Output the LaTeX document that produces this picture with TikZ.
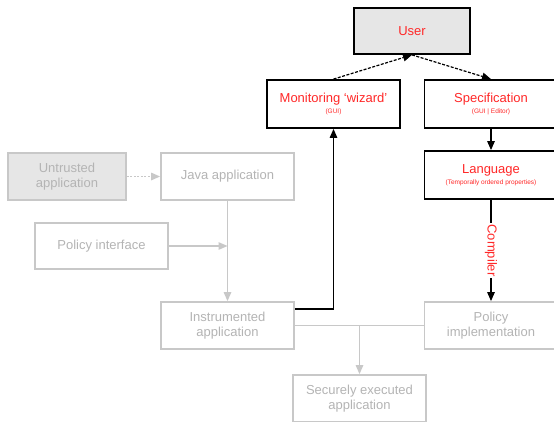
\documentclass[tikz,border=0pt]{standalone}
\usepackage{fontspec}
\setmainfont{Liberation Sans}
\usetikzlibrary{arrows.meta}
\definecolor{lred}{RGB}{255,40,40}
\definecolor{lgray}{RGB}{200,200,200}
\definecolor{tgray}{RGB}{180,180,180}
\definecolor{bfill}{RGB}{230,230,230}
\tikzset{
  mainfont/.style={font=\fontsize{13}{14.5}\selectfont},
  blackbox/.style={draw=black, line width=1.8pt, fill=white, text=lred, align=center, mainfont, inner sep=0pt},
  graybox/.style={draw=lgray, line width=1.8pt, fill=white, text=tgray, align=center, mainfont, inner sep=0pt},
  blk/.style={draw=black, line width=1.2pt, -{Triangle[length=9pt,width=7.5pt]}},
  gry/.style={draw=lgray, line width=1.2pt, -{Triangle[length=9pt,width=7.5pt]}},
  blkdash/.style={blk, dashed, dash pattern=on 3pt off 1.5pt},
}
\newcommand{\subtxt}[1]{\\[-3pt]{\fontsize{6.5}{7}\selectfont #1}}
\begin{document}
\begin{tikzpicture}[x=1pt,y=-1pt]
\useasboundingbox (0,0) rectangle (554,421);
\clip (0,0) rectangle (554,421);
\fill[white] (0,0) rectangle (554,421);
% black boxes
\node[blackbox, fill=bfill, minimum width=116pt, minimum height=46pt] (user) at (412,31) {User};
\node[blackbox, minimum width=133pt, minimum height=48pt] (mon) at (333.5,104) {Monitoring ‘wizard’\subtxt{(GUI)}};
\node[blackbox, minimum width=133pt, minimum height=48pt] (spec) at (491,104) {Specification\subtxt{(GUI | Editor)}};
\node[blackbox, minimum width=133pt, minimum height=48pt] (lang) at (491,175) {Language\subtxt{(Temporally ordered properties)}};
% gray boxes
\node[graybox, fill=bfill, minimum width=118pt, minimum height=47pt] (untr) at (67,176.5) {Untrusted\\application};
\node[graybox, minimum width=133pt, minimum height=47pt] (java) at (227.5,176.5) {Java application};
\node[graybox, minimum width=133pt, minimum height=46pt] (polif) at (101.5,246) {Policy interface};
\node[graybox, minimum width=133pt, minimum height=47pt] (instr) at (227.5,325.5) {Instrumented\\application};
\node[graybox, minimum width=133pt, minimum height=47pt] (polimpl) at (491,325.5) {Policy\\implementation};
\node[graybox, minimum width=133pt, minimum height=47pt] (secure) at (359.5,398.5) {Securely executed\\application};
% gray connectors
\draw[gry, dashed, dash pattern=on 2pt off 1.5pt] (untr.east) -- (java.west);
\draw[gry] (java.south) -- (instr.north);
\draw[gry] (polif.east) -- (java.south |- polif.east);
\draw[draw=lgray, line width=1.2pt] (instr.east) -- (polimpl.west);
\draw[gry] (secure.north |- instr.east) -- (secure.north);
% black connectors
\draw[blkdash] (mon.north) -- (user.south);
\draw[blkdash] (user.south) -- (spec.north);
\draw[blk] (spec.south) -- (lang.north);
\draw[blk] (lang.south) -- node[fill=white, text=lred, rotate=-90, mainfont, inner sep=1pt] (comp) {Compiler} (lang.south |- polimpl.north);
\coordinate (m1) at (294,309);
\draw[blk] (instr.east |- m1) -| (mon.south);
\end{tikzpicture}
\end{document}
